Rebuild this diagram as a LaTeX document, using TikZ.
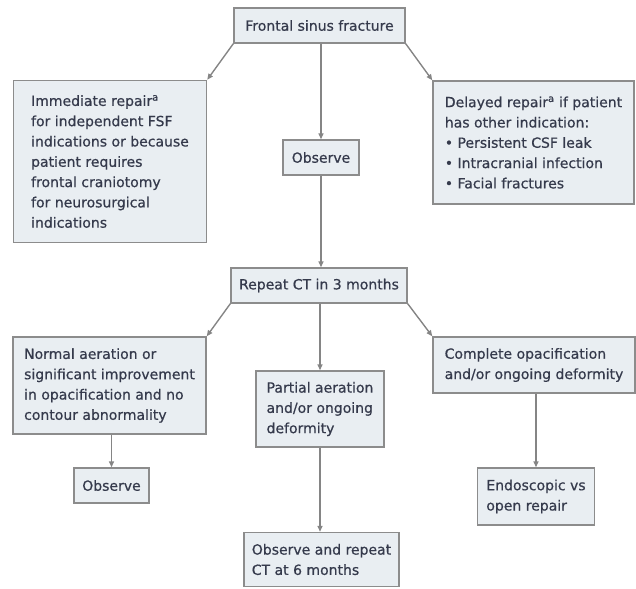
\documentclass[tikz,border=0pt]{standalone}
\usepackage{fontspec}
\setmainfont{DejaVu Sans}[FakeBold=0.6]
\usetikzlibrary{arrows.meta}
\definecolor{boxfill}{HTML}{E9EEF2}
\definecolor{boxline}{HTML}{8C8C8C}
\definecolor{txt}{HTML}{353A4C}
\definecolor{arr}{HTML}{858585}
\tikzset{
  box/.style={draw=boxline, fill=boxfill, line width=1.4pt, inner sep=0pt,
    align=left, text=txt, font=\fontsize{14}{20.3}\selectfont},
  conn/.style={draw=arr, line width=1.4pt, -{Triangle[length=6pt,width=5pt]}}
}
\begin{document}
\begin{tikzpicture}[x=1pt,y=-1pt]
\useasboundingbox (0,0) rectangle (636,588);
\node[box, minimum width=171pt, minimum height=35pt] (fsf) at (319.5,25.5) {Frontal sinus fracture};
\node[box, minimum width=193pt, minimum height=162pt] (imm) at (110,161.5) {Immediate repair\textsuperscript{a}\\for independent FSF\\indications or because\\patient requires\\frontal craniotomy\\for neurosurgical\\indications};
\node[box, minimum width=76pt, minimum height=35pt] (obsa) at (321,157.5) {Observe};
\node[box, minimum width=201pt, minimum height=123pt] (del) at (533.5,142.5) {Delayed repair\textsuperscript{a} if patient\\has other indication:\\• Persistent CSF leak\\• Intracranial infection\\• Facial fractures};
\node[box, minimum width=176pt, minimum height=35pt] (rep) at (319,285.5) {Repeat CT in 3 months};
\node[box, minimum width=193pt, minimum height=97pt] (norm) at (109.5,385.5) {Normal aeration or\\significant improvement\\in opacification and no\\contour abnormality};
\node[box, minimum width=128pt, minimum height=76pt] (part) at (320,409) {Partial aeration\\and/or ongoing\\deformity};
\node[box, minimum width=202pt, minimum height=56pt] (comp) at (534,365) {Complete opacification\\and/or ongoing deformity};
\node[box, minimum width=75pt, minimum height=35pt] (obsb) at (111.5,485.5) {Observe};
\node[box, minimum width=117pt, minimum height=57pt] (endo) at (536,496.5) {Endoscopic vs\\open repair};
\node[box, minimum width=155pt, minimum height=54pt] (obsrep) at (321.5,559.5) {Observe and repeat\\CT at 6 months};
\draw[conn] (fsf.south west) -- (imm.north east);
\draw[conn] (fsf.south east) -- (del.north west);
\draw[conn] (obsa.north |- fsf.south) -- (obsa.north);
\draw[conn] (obsa.south) -- (obsa.south |- rep.north);
\draw[conn] (rep.south west) -- (norm.north east);
\draw[conn] (rep.south east) -- (comp.north west);
\draw[conn] (part.north |- rep.south) -- (part.north);
\draw[conn] (obsb.north |- norm.south) -- (obsb.north);
\draw[conn] (part.south) -- (part.south |- obsrep.north);
\draw[conn] (endo.north |- comp.south) -- (endo.north);
\end{tikzpicture}
\end{document}
